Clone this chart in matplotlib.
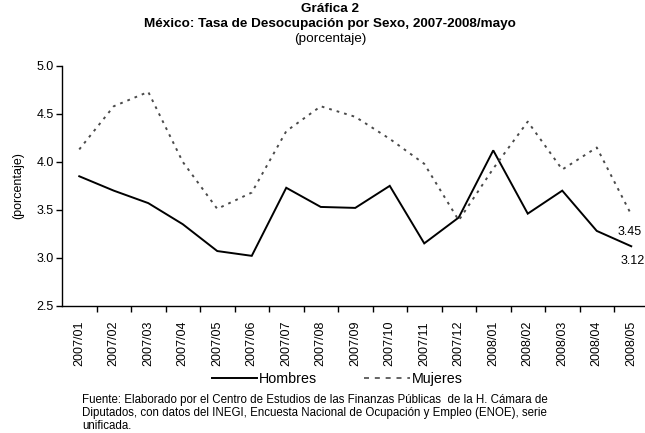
import matplotlib
matplotlib.use("Agg")
import matplotlib.pyplot as plt
from matplotlib.lines import Line2D
import numpy as np

plt.rcParams['font.family'] = ['Liberation Sans', 'DejaVu Sans']

months = ["2007/01", "2007/02", "2007/03", "2007/04", "2007/05", "2007/06",
          "2007/07", "2007/08", "2007/09", "2007/10", "2007/11", "2007/12",
          "2008/01", "2008/02", "2008/03", "2008/04", "2008/05"]
hombres = [3.85, 3.70, 3.57, 3.35, 3.07, 3.02, 3.73, 3.53, 3.52, 3.75, 3.15,
           3.42, 4.12, 3.46, 3.70, 3.28, 3.12]
mujeres = [4.13, 4.58, 4.73, 4.00, 3.51, 3.68, 4.32, 4.58, 4.47, 4.24, 3.98,
           3.39, 3.93, 4.42, 3.92, 4.15, 3.45]
yticks = [2.5, 3.0, 3.5, 4.0, 4.5, 5.0]

W, H = 645, 433
fig = plt.figure(figsize=(W / 100, H / 100), dpi=100)
ax = fig.add_axes([62 / W, 1 - 305.7 / H, (648.5 - 62) / W, (305.7 - 66) / H])

x = np.arange(len(months))
ax.plot(x, hombres, color='black', lw=1.4, solid_joinstyle='miter')
ax.plot(x, mujeres, color='#4a4a4a', lw=1.4, linestyle=(0, (1.4, 2.6)))

ax.set_xlim(-0.5, len(months) - 0.5)
ax.set_ylim(2.5, 5.0)
ax.set_yticks(yticks)
ax.set_yticklabels([f"{v:.1f}" for v in yticks], fontsize=9)
ax.set_xticks(x)
ax.set_xticklabels(months, rotation=90, fontsize=9)
ax.set_xticks(np.arange(0.5, len(months), 1.0), minor=True)
ax.tick_params(axis='x', which='major', length=0, pad=11)
ax.tick_params(axis='x', which='minor', length=4, width=1, direction='out')
ax.tick_params(axis='y', length=4, width=1, direction='out', pad=2)
for s in ['top', 'right']:
    ax.spines[s].set_visible(False)
for s in ['left', 'bottom']:
    ax.spines[s].set_linewidth(1)
ax.set_ylabel("(porcentaje)", fontsize=9, labelpad=9)

ax.annotate(f"{mujeres[-1]:.2f}", (x[-1], mujeres[-1]), xytext=(-1, -8),
            textcoords='offset points', ha='center', va='top', fontsize=9,
            annotation_clip=False)
ax.annotate(f"{hombres[-1]:.2f}", (x[-1], hombres[-1]), xytext=(1, -6),
            textcoords='offset points', ha='center', va='top', fontsize=9,
            annotation_clip=False)

fig.text(330 / W, 1 - 9 / H, "Gráfica 2", ha='center', va='center',
         fontsize=9.7, fontweight='bold')
fig.text(330 / W, 1 - 24 / H,
         "México: Tasa de Desocupación por Sexo, 2007-2008/mayo",
         ha='center', va='center', fontsize=9.7, fontweight='bold')
fig.text(330 / W, 1 - 39 / H, "(porcentaje)", ha='center', va='center',
         fontsize=9.7)

handles = [Line2D([], [], color='black', lw=1.4),
           Line2D([], [], color='#4a4a4a', lw=1.2, linestyle=(0, (3, 3.5)))]
fig.legend(handles, ["Hombres", "Mujeres"], loc='center',
           bbox_to_anchor=(337 / W, 1 - 379 / H), ncol=2, frameon=False,
           fontsize=10.3, handlelength=3.2, handletextpad=0.1,
           columnspacing=3.3)

fuente = ("Fuente: Elaborado por el Centro de Estudios de las Finanzas Públicas  de la H. Cámara de\n"
          "Diputados, con datos del INEGI, Encuesta Nacional de Ocupación y Empleo (ENOE), serie\n"
          "unificada.")
fig.text(82 / W, 1 - 394 / H, fuente, ha='left', va='top', fontsize=8.3,
         linespacing=1.13)

fig.savefig("out.png", dpi=100)
